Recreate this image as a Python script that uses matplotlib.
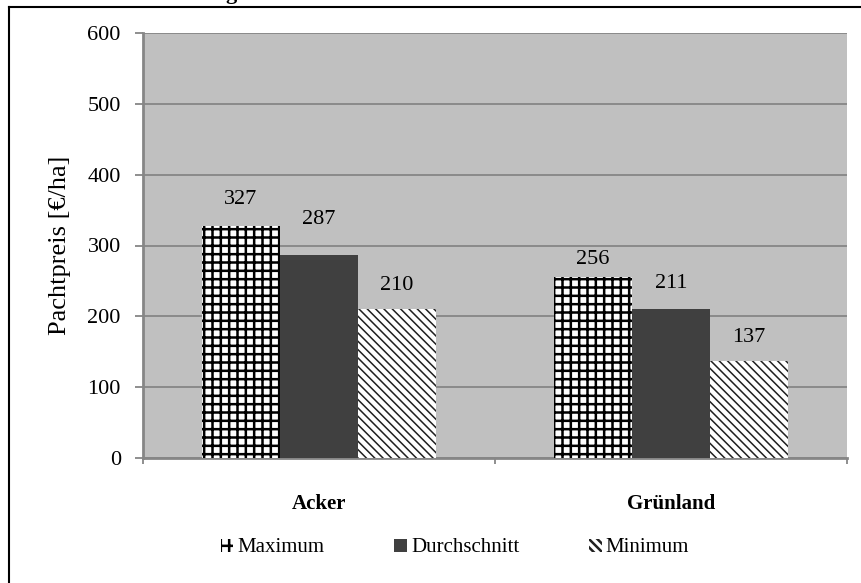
import numpy as np
import matplotlib
matplotlib.use("Agg")
import matplotlib.pyplot as plt
from matplotlib.patches import Patch
from matplotlib.lines import Line2D

# -----------------------------
# Data
# -----------------------------
categories = ["Acker", "Grünland"]
series_names = ["Maximum", "Durchschnitt", "Minimum"]
maximum = [327, 256]
durchschnitt = [287, 211]
minimum = [210, 137]

# label offsets above the bar tops (points), as placed in the original
label_offsets = [[19.5, 12], [25, 18], [17, 17]]

plt.rcParams["font.family"] = ["Liberation Serif", "DejaVu Serif"]
plt.rcParams["hatch.linewidth"] = 1.8

fig = plt.figure(figsize=(8.61, 5.83), dpi=100)
ax = fig.add_axes([143 / 861, 1 - 458 / 583, (847 - 143) / 861, (458 - 33) / 583])

x = np.arange(len(categories))
width = 0.222
styles = [
    dict(facecolor="white", edgecolor="black", hatch="++", linewidth=0),
    dict(facecolor="#404040", edgecolor="#404040", linewidth=0),
    dict(facecolor="white", edgecolor="#202020", hatch="\\\\\\\\", linewidth=0),
]
hatch_widths = [1.8, 1.0, 1.1]
values = [maximum, durchschnitt, minimum]

for i, (vals, st) in enumerate(zip(values, styles)):
    pos = x + (i - 1) * width
    bars = ax.bar(pos, vals, width=width, zorder=3, **st)
    for b in bars:
        try:
            b.set_hatch_linewidth(hatch_widths[i])
        except AttributeError:
            pass
    for j, (p, v) in enumerate(zip(pos, vals)):
        ax.annotate(str(v), (p, v), xytext=(0, label_offsets[i][j]),
                    textcoords="offset points", ha="center", va="center",
                    fontsize=16)

ax.set_facecolor("#c0c0c0")
ax.set_xlim(-0.5, 1.5)
ax.set_ylim(0, 600)
ax.set_yticks(np.arange(0, 601, 100))
ax.yaxis.grid(True, color="#868686", linewidth=1.3, zorder=0)
ax.set_axisbelow(True)

for side in ["top", "right"]:
    ax.spines[side].set_visible(False)
for side in ["left", "bottom"]:
    ax.spines[side].set_color("#868686")
    ax.spines[side].set_linewidth(2)

ax.tick_params(axis="y", length=6, width=1.3, color="#868686", pad=10, labelsize=16)
ax.set_xticks(x)
ax.set_xticklabels(categories, fontweight="bold", fontsize=15)
ax.tick_params(axis="x", which="major", length=0, pad=26)
ax.set_xticks([-0.5, 0.5, 1.5], minor=True)
ax.tick_params(axis="x", which="minor", length=4, width=1.3, color="#868686")

ax.set_ylabel("Pachtpreis [€/ha]", fontsize=19, labelpad=12)

# legend
handles = [Patch(**styles[0]), Patch(**styles[1]), Patch(**styles[2])]
fig.legend(handles, series_names, loc="center", bbox_to_anchor=(455 / 861, 1 - 548 / 583),
           ncol=3, frameon=False, fontsize=15, handlelength=0.6, handleheight=0.6,
           handletextpad=0.2, columnspacing=3.35)

# figure border (left and top edges visible in the crop)
fig.add_artist(Line2D([9 / 861, 9 / 861], [0, 1 - 7 / 583], color="black", linewidth=1.5))
fig.add_artist(Line2D([9 / 861, 1], [1 - 7 / 583, 1 - 7 / 583], color="black", linewidth=1.5))

# cut-off title above the chart
fig.text(231 / 861, 1 + 1 / 583, "g", ha="center", va="baseline", fontsize=16,
         fontweight="bold")

fig.savefig("out.png", dpi=100)
